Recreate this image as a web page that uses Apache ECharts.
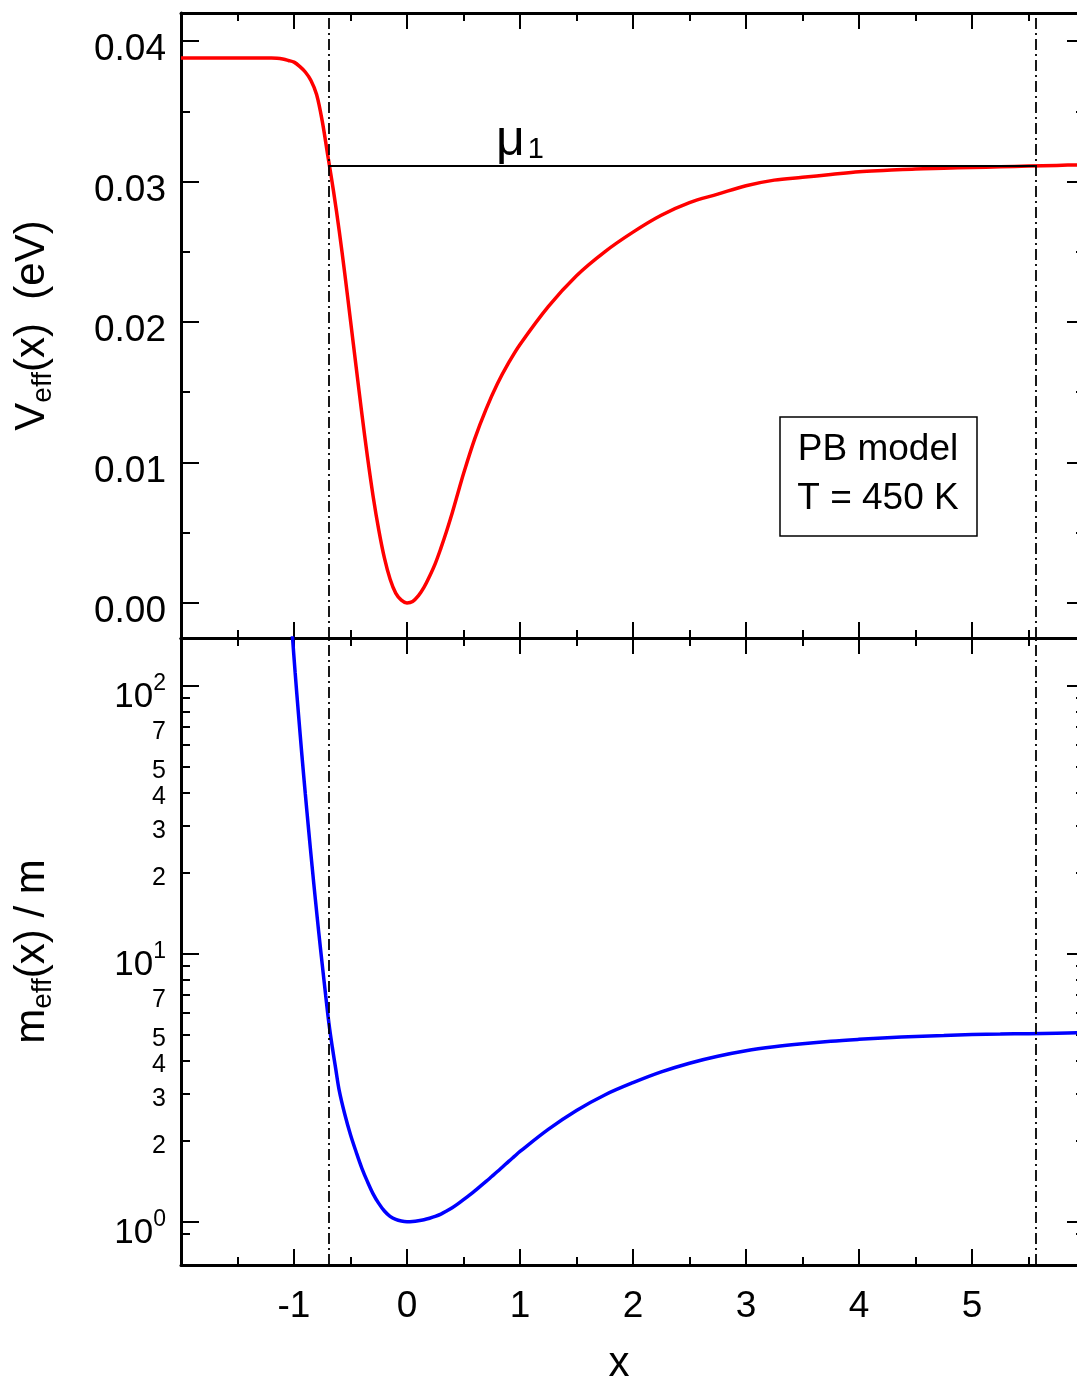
<!DOCTYPE html>
<html><head><meta charset="utf-8">
<script src="https://cdn.jsdelivr.net/npm/echarts@6/dist/echarts.min.js"></script>
<style>html,body{margin:0;padding:0;background:#fff}#c{width:1077px;height:1379px}</style>
</head><body><div id="c"></div>
<script>
// ---- data ----
const xV = [-2.0,-1.75,-1.5,-1.25,-1.2,-1.15,-1.1,-1.05,-1.0,-0.95,-0.9,-0.85,-0.8,-0.75,-0.7,-0.65,-0.6,-0.55,-0.5,-0.45,-0.4,-0.35,-0.3,-0.25,-0.2,-0.15,-0.1,-0.05,0,0.05,0.1,0.15,0.2,0.25,0.3,0.35,0.4,0.45,0.5,0.6,0.7,0.8,0.9,1.0,1.25,1.5,1.75,2.0,2.25,2.5,2.75,3.0,3.25,3.5,3.75,4.0,4.25,4.5,4.75,5.0,5.25,5.5,5.75,6.0];
const vEff = [0.0388,0.0388,0.0388,0.0388,0.0388,0.03878,0.03872,0.03862,0.0385,0.0382,0.0378,0.0372,0.0362,0.0343,0.0318,0.0293,0.0265,0.0234,0.0201,0.0168,0.0135,0.0104,0.0076,0.0052,0.0032,0.0017,0.0007,0.0002,0,0.0001,0.0005,0.0011,0.0019,0.0028,0.0039,0.0051,0.0064,0.0078,0.0092,0.0117,0.0138,0.0156,0.0171,0.0184,0.0211,0.0233,0.0250,0.0264,0.0276,0.0285,0.0291,0.0297,0.0301,0.0303,0.0305,0.0307,0.0308,0.0309,0.03095,0.0310,0.03105,0.0311,0.03115,0.0312];
const xM = [-1.02,-0.99,-0.96,-0.93,-0.9,-0.87,-0.84,-0.81,-0.78,-0.75,-0.72,-0.69,-0.66,-0.63,-0.6,-0.55,-0.5,-0.45,-0.4,-0.35,-0.3,-0.25,-0.2,-0.15,-0.1,-0.05,0,0.05,0.1,0.15,0.2,0.25,0.3,0.35,0.4,0.45,0.5,0.55,0.6,0.65,0.7,0.75,0.8,0.85,0.9,0.95,1.0,1.25,1.5,1.75,2.0,2.25,2.5,2.75,3.0,3.25,3.5,3.75,4.0,4.25,4.5,4.75,5.0,5.25,5.5,5.75,6.0];
const mEff = [166,112,78,55,39.5,28.8,21.2,15.8,11.9,9.1,7.0,5.45,4.45,3.7,3.09,2.51,2.11,1.82,1.585,1.41,1.27,1.17,1.096,1.047,1.019,1.005,1.0,1.002,1.008,1.017,1.03,1.046,1.067,1.095,1.127,1.165,1.208,1.254,1.303,1.357,1.413,1.474,1.538,1.607,1.679,1.752,1.828,2.21,2.60,2.97,3.3,3.62,3.9,4.14,4.34,4.49,4.61,4.71,4.79,4.86,4.91,4.95,4.99,5.01,5.03,5.05,5.07];
const boundaries = [-0.69, 5.557];
const mu1 = 0.0311;
const muLabelX = 1.0;
const xRange = [-2, 6];
const vRange = [-0.0025, 0.042];
const mRange = [0.689, 150.6];
const logMinorTicks = [0.9,2,3,4,5,6,7,8,9,20,30,40,50,60,70,80,90];
const logMinorLabels = [2,3,4,5,7,20,30,40,50,70];
const legendLines = ['PB model', 'T = 450 K'];

const FONT = 'Liberation Sans, Arial, Helvetica, sans-serif';
const BLACK = '#000';

const chart = echarts.init(document.getElementById('c'), null, {renderer: 'canvas'});

function xAxisCfg(grid, pos, withLabels) {
  return {
    type: 'value', gridIndex: grid, position: pos, min: xRange[0], max: xRange[1], interval: 1,
    axisLine: {show: true, onZero: false, lineStyle: {color: BLACK, width: 3}},
    axisTick: {show: true, inside: true, length: 16, lineStyle: {color: BLACK, width: 2}},
    minorTick: {show: true, splitNumber: 2, length: 8, lineStyle: {color: BLACK, width: 2}},
    splitLine: {show: false}, minorSplitLine: {show: false},
    axisLabel: withLabels ? {show: true, fontSize: 37, fontFamily: FONT, color: BLACK, margin: 23,
      showMinLabel: false, showMaxLabel: false} : {show: false}
  };
}
function vAxisCfg(pos, withLabels) {
  const a = {
    type: 'value', gridIndex: 0, position: pos, min: vRange[0], max: vRange[1],
    axisLine: {show: true, onZero: false, lineStyle: {color: BLACK, width: 3}},
    axisTick: {show: true, inside: true, length: 18, lineStyle: {color: BLACK, width: 2}},
    minorTick: {show: true, splitNumber: 2, length: 9, lineStyle: {color: BLACK, width: 2}},
    splitLine: {show: false}, minorSplitLine: {show: false},
    axisLabel: withLabels ? {show: true, margin: 15,
      showMinLabel: false, showMaxLabel: false,
      formatter: v => '{a|' + v.toFixed(2) + '}',
      rich: {a: {fontSize: 37, fontFamily: FONT, color: BLACK, padding: [18, 0, 0, 0]}}} : {show: false}
  };
  if (withLabels) {
    a.name = 'V{sub|eff}(x)  (eV)';
    a.nameLocation = 'middle';
    a.nameGap = 124;
    a.nameTextStyle = {fontSize: 42, fontFamily: FONT, color: BLACK,
      rich: {sub: {fontSize: 28, fontFamily: FONT, color: BLACK, padding: [22, 0, 0, 0]}}};
  }
  return a;
}
function mAxisMajor(pos, withLabels) {
  const a = {
    type: 'log', logBase: 10, gridIndex: 1, position: pos, min: mRange[0], max: mRange[1],
    axisLine: {show: true, onZero: false, lineStyle: {color: BLACK, width: 3}},
    axisTick: {show: true, inside: true, length: 18, lineStyle: {color: BLACK, width: 2}},
    minorTick: {show: false}, splitLine: {show: false},
    axisLabel: withLabels ? {show: true, margin: 15,
      showMinLabel: false, showMaxLabel: false,
      formatter: v => '{b|10}{sup|' + Math.round(Math.log10(v)) + '}',
      rich: {
        b: {fontSize: 35, fontFamily: FONT, color: BLACK, padding: [24, 0, 0, 0]},
        sup: {fontSize: 23, fontFamily: FONT, color: BLACK, padding: [0, 0, 3, 0]}
      }} : {show: false}
  };
  if (withLabels) {
    a.name = 'm{sub|eff}(x) / m';
    a.nameLocation = 'middle';
    a.nameGap = 124;
    a.nameTextStyle = {fontSize: 42, fontFamily: FONT, color: BLACK,
      rich: {sub: {fontSize: 28, fontFamily: FONT, color: BLACK, padding: [22, 0, 0, 0]}}};
  }
  return a;
}
function mAxisMinor(pos, withLabels) {
  return {
    type: 'log', logBase: 10, gridIndex: 1, position: pos, min: mRange[0], max: mRange[1],
    axisLine: {show: false, onZero: false},
    axisTick: {show: true, inside: true, length: 9, customValues: logMinorTicks, lineStyle: {color: BLACK, width: 2}},
    minorTick: {show: false}, splitLine: {show: false},
    axisLabel: withLabels ? {show: true, customValues: logMinorLabels, margin: 15,
      formatter: v => '{c|' + String(v).charAt(0) + '}',
      rich: {c: {fontSize: 25, fontFamily: FONT, color: BLACK, padding: [10, 0, 0, 0]}}} : {show: false}
  };
}

const vLineStyle = {color: BLACK, width: 1.8, type: [11, 4, 2, 4]};

const option = {
  animation: false,
  backgroundColor: '#fff',
  grid: [
    {left: 181, width: 904, top: 13, height: 625, outerBoundsMode: 'none', containLabel: false},
    {left: 181, width: 904, top: 638, height: 627, outerBoundsMode: 'none', containLabel: false}
  ],
  xAxis: [
    xAxisCfg(0, 'bottom', false),
    xAxisCfg(0, 'top', false),
    Object.assign(xAxisCfg(1, 'bottom', true), {
      name: 'x', nameLocation: 'middle', nameGap: 78,
      nameTextStyle: {fontSize: 42, fontFamily: FONT, color: BLACK, padding: [0, 28, 0, 0]}
    }),
    xAxisCfg(1, 'top', false)
  ],
  yAxis: [
    vAxisCfg('left', true),
    vAxisCfg('right', false),
    mAxisMajor('left', true),
    mAxisMinor('left', true),
    mAxisMajor('right', false),
    mAxisMinor('right', false)
  ],
  series: [
    {
      name: 'Veff', type: 'line', xAxisIndex: 0, yAxisIndex: 0,
      data: xV.map((x, i) => [x, vEff[i]]),
      smooth: 0.35, showSymbol: false, symbol: 'none',
      lineStyle: {color: '#ff0000', width: 3.5}, z: 3,
      markLine: {
        silent: true, symbol: ['none', 'none'], label: {show: false},
        lineStyle: vLineStyle,
        data: boundaries.map(b => ({xAxis: b})).concat([
          [{coord: [boundaries[0], mu1], lineStyle: {color: BLACK, width: 1.8, type: 'solid'}},
           {coord: [boundaries[1], mu1]}]
        ])
      },
      markPoint: {
        silent: true, symbol: 'circle', symbolSize: 0,
        data: [{coord: [muLabelX, mu1]}],
        label: {show: true, position: 'top', distance: 0, formatter: '{mu|μ}{sub|1}',
          rich: {
            mu: {fontSize: 50, fontFamily: FONT, color: BLACK},
            sub: {fontSize: 29, fontFamily: FONT, color: BLACK, padding: [18, 0, 0, 3]}
          }}
      }
    },
    {
      name: 'meff', type: 'line', xAxisIndex: 2, yAxisIndex: 2,
      data: xM.map((x, i) => [x, mEff[i]]),
      smooth: 0.35, showSymbol: false, symbol: 'none',
      lineStyle: {color: '#0000ff', width: 3.5}, z: 3,
      markLine: {
        silent: true, symbol: ['none', 'none'], label: {show: false},
        lineStyle: vLineStyle,
        data: boundaries.map(b => ({xAxis: b}))
      }
    }
  ],
  graphic: [
    {type: 'rect', shape: {x: 780, y: 417, width: 197, height: 119},
     style: {fill: '#fff', stroke: BLACK, lineWidth: 1.5}, z: 10},
    {type: 'text', x: 878, y: 450, z: 11,
     style: {text: legendLines[0], fontSize: 37, fontFamily: FONT, fill: BLACK, align: 'center', verticalAlign: 'middle'}},
    {type: 'text', x: 878, y: 499, z: 11,
     style: {text: legendLines[1], fontSize: 37, fontFamily: FONT, fill: BLACK, align: 'center', verticalAlign: 'middle'}}
  ]
};
chart.setOption(option);
</script>
</body></html>
